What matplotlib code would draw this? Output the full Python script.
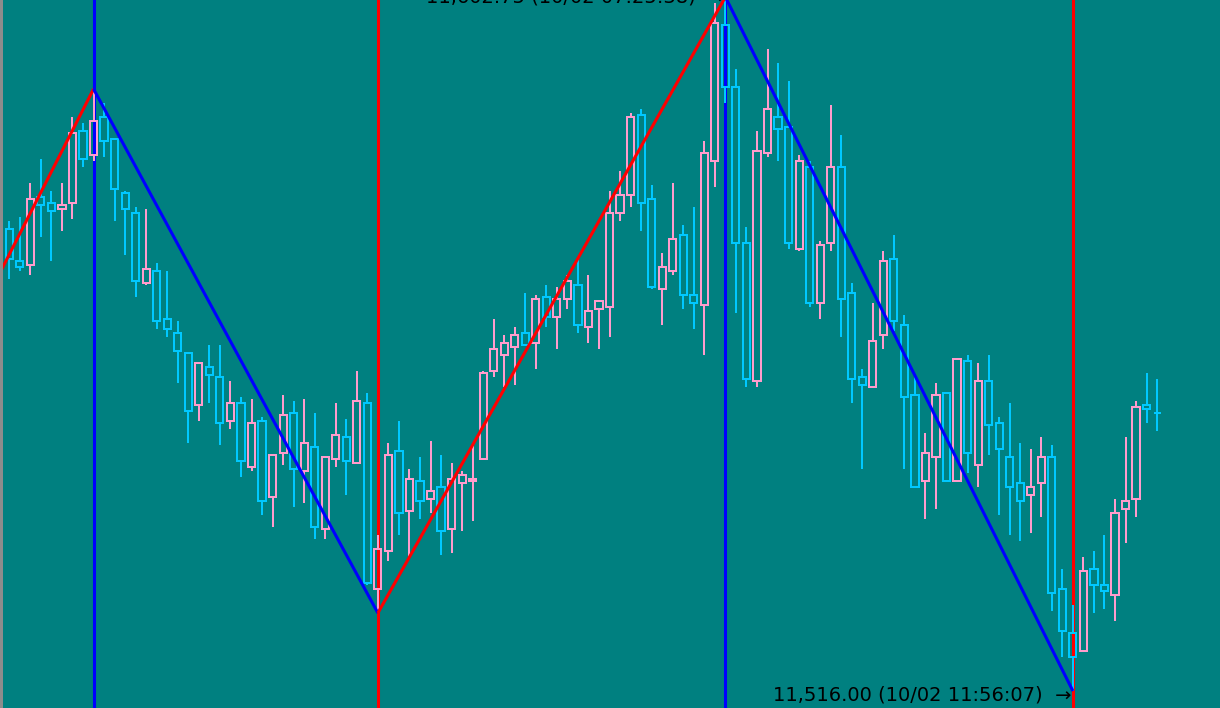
import numpy as np
import matplotlib.pyplot as plt
from matplotlib.patches import Rectangle

# candle data, one entry per bar (index 0 = leftmost bar on screen)
opens = [
    11573.75, 11569.75, 11569.25, 11577.75, 11577.0, 11576.25, 11577.0, 11586.0, 11583.0, 11587.75,
    11585.0, 11578.25, 11575.75, 11567.0, 11568.5, 11562.5, 11560.75, 11558.25, 11551.75, 11556.5,
    11555.25, 11549.75, 11552.0, 11544.0, 11549.75, 11540.25, 11545.75, 11550.75, 11543.5, 11546.5,
    11536.25, 11545.0, 11547.75, 11544.5, 11552.0, 11528.75, 11533.5, 11546.0, 11538.5, 11542.25,
    11540.0, 11541.5, 11536.25, 11542.0, 11542.25, 11545.0, 11556.0, 11558.0, 11559.0, 11560.75,
    11559.5, 11565.25, 11562.75, 11565.0, 11566.75, 11561.5, 11563.75, 11564.0, 11575.75, 11578.0,
    11588.0, 11577.5, 11566.25, 11568.5, 11573.0, 11565.5, 11564.25, 11582.25, 11599.25, 11591.5,
    11572.0, 11554.75, 11583.25, 11587.75, 11586.5, 11571.25, 11581.5, 11564.5, 11572.0, 11581.5,
    11565.75, 11555.25, 11554.0, 11560.5, 11570.0, 11561.75, 11553.0, 11542.25, 11545.25, 11553.25,
    11542.25, 11557.25, 11544.25, 11554.75, 11549.5, 11545.25, 11542.0, 11540.5, 11542.0, 11545.25,
    11528.75, 11523.25, 11521.0, 11531.25, 11529.25, 11528.0, 11538.75, 11540.0, 11551.75, 11550.75,
]
highs = [
    11574.75, 11575.25, 11579.5, 11582.5, 11578.5, 11579.5, 11587.75, 11587.0, 11591.25, 11589.5,
    11585.0, 11578.5, 11576.5, 11576.25, 11569.5, 11568.5, 11562.25, 11558.25, 11557.0, 11559.25,
    11559.25, 11554.75, 11552.75, 11552.5, 11550.25, 11545.5, 11553.0, 11552.25, 11552.5, 11550.75,
    11545.25, 11552.0, 11550.0, 11556.0, 11553.25, 11535.5, 11547.0, 11549.75, 11543.75, 11545.25,
    11547.25, 11545.5, 11544.5, 11543.5, 11547.0, 11556.0, 11562.5, 11560.5, 11561.5, 11565.75,
    11565.5, 11566.75, 11566.5, 11568.0, 11570.0, 11568.0, 11564.75, 11578.5, 11581.0, 11588.25,
    11588.75, 11579.25, 11570.75, 11579.5, 11574.25, 11576.5, 11584.75, 11602.0, 11602.75, 11593.75,
    11574.0, 11586.0, 11596.25, 11594.5, 11592.25, 11583.0, 11582.25, 11572.25, 11589.25, 11585.5,
    11567.0, 11556.25, 11564.5, 11571.0, 11573.0, 11563.0, 11555.5, 11548.25, 11554.5, 11553.25,
    11557.5, 11558.0, 11557.0, 11558.0, 11550.25, 11552.0, 11547.0, 11546.25, 11547.75, 11546.75,
    11531.25, 11526.75, 11532.75, 11533.5, 11535.5, 11540.0, 11547.75, 11552.25, 11555.75, 11555.0,
]
lows = [
    11567.5, 11568.5, 11568.0, 11572.75, 11569.75, 11573.5, 11575.0, 11581.5, 11582.25, 11582.75,
    11574.75, 11570.5, 11565.25, 11566.75, 11561.25, 11560.25, 11554.5, 11547.0, 11549.75, 11552.0,
    11546.75, 11548.75, 11542.75, 11543.5, 11538.0, 11536.5, 11544.25, 11539.0, 11539.5, 11535.0,
    11535.0, 11544.0, 11540.5, 11544.5, 11529.25, 11525.75, 11532.25, 11535.5, 11532.75, 11537.5,
    11538.25, 11533.0, 11533.25, 11536.0, 11537.25, 11545.0, 11555.25, 11554.0, 11554.25, 11559.25,
    11556.25, 11561.5, 11558.75, 11563.75, 11560.75, 11559.5, 11558.75, 11560.25, 11574.75, 11576.5,
    11573.5, 11566.25, 11561.75, 11568.0, 11563.75, 11561.25, 11558.0, 11579.0, 11589.5, 11563.25,
    11554.0, 11554.0, 11582.75, 11582.25, 11571.25, 11571.0, 11564.0, 11562.5, 11571.0, 11560.25,
    11552.0, 11543.75, 11554.0, 11558.75, 11561.0, 11543.75, 11541.5, 11537.5, 11538.75, 11542.25,
    11542.25, 11543.25, 11541.5, 11545.5, 11538.0, 11535.5, 11534.75, 11535.75, 11537.75, 11526.0,
    11520.25, 11516.0, 11521.0, 11525.75, 11526.25, 11524.75, 11534.5, 11537.75, 11549.5, 11548.5,
]
closes = [
    11570.0, 11569.0, 11577.5, 11576.75, 11576.0, 11576.75, 11585.75, 11582.5, 11587.25, 11584.75,
    11578.75, 11576.25, 11567.25, 11568.75, 11562.25, 11561.25, 11558.5, 11551.0, 11557.0, 11555.5,
    11549.5, 11552.0, 11544.75, 11549.5, 11539.75, 11545.5, 11550.5, 11543.75, 11547.0, 11536.5,
    11545.25, 11548.0, 11544.75, 11552.25, 11529.5, 11533.75, 11545.5, 11538.25, 11542.5, 11539.75,
    11541.0, 11536.0, 11542.5, 11543.0, 11542.5, 11555.75, 11558.75, 11559.5, 11560.5, 11559.25,
    11565.0, 11562.75, 11565.0, 11567.25, 11561.75, 11563.5, 11564.75, 11575.75, 11578.0, 11587.75,
    11577.0, 11566.5, 11569.0, 11572.5, 11565.5, 11564.5, 11583.25, 11599.5, 11591.5, 11572.0,
    11555.0, 11583.5, 11588.75, 11586.25, 11572.0, 11582.25, 11564.5, 11571.75, 11581.5, 11565.0,
    11555.0, 11554.25, 11559.75, 11569.75, 11562.25, 11552.75, 11541.5, 11545.75, 11553.0, 11542.25,
    11557.5, 11545.75, 11554.75, 11549.25, 11546.25, 11541.5, 11539.75, 11541.5, 11545.25, 11528.25,
    11523.5, 11520.25, 11531.0, 11529.25, 11528.5, 11538.25, 11539.75, 11551.5, 11551.25, 11550.75,
]

# zigzag pivots (bar index, price); first one is just off the left edge
zz_idx = [-1, 8, 35, 68, 101]
zz_price = [11568.0, 11591.25, 11525.75, 11602.75, 11516.0]

# price labels at the last two pivots (the top one runs off the chart, as on screen)
lbl_idx = [68, 101]
lbl_price = [11602.75, 11516.0]
lbl_text = ["11,602.75 (10/02 07:25:38)  \u2192", "11,516.00 (10/02 11:56:07)  \u2192"]
lbl_dy = [-3.9, -7.0]   # baseline offset in points

BG = "#008080"
UP = "#ff9ccc"
DOWN = "#00c8ff"

fig = plt.figure(figsize=(12.2, 7.08), dpi=100)
ax = fig.add_axes([0, 0, 1, 1])
ax.set_facecolor(BG)
fig.patch.set_facecolor(BG)

x = np.arange(len(opens))
o = np.array(opens)
h = np.array(highs)
l = np.array(lows)
c = np.array(closes)
cols = [UP if cc > oo else DOWN for oo, cc in zip(o, c)]
top = np.maximum(o, c)
bot = np.minimum(o, c)

# vertical lines at each pivot (under the candles)
for i, (xi, p) in enumerate(zip(zz_idx[1:], zz_price[1:])):
    vc = "#0000ff" if p > zz_price[i] else "#ff0000"
    ax.axvline(xi, color=vc, lw=2.2, zorder=1)

# wicks above and below the hollow body, drawn crisp like the terminal does
LW = 1.15
ax.vlines(x, top, h, colors=cols, lw=LW, zorder=2, antialiased=False)
ax.vlines(x, l, bot, colors=cols, lw=LW, zorder=2, antialiased=False)
ax.bar(x, top - bot, bottom=bot, width=0.68, facecolor="none",
       edgecolor=cols, linewidth=LW, zorder=2, antialiased=False)

# zigzag segments: red going up, blue going down
for i in range(len(zz_idx) - 1):
    sc = "#ff0000" if zz_price[i + 1] > zz_price[i] else "#0000ff"
    ax.plot(zz_idx[i:i + 2], zz_price[i:i + 2], color=sc, lw=2.2,
            solid_capstyle="butt", zorder=4)

for xi, p, t, dy in zip(lbl_idx, lbl_price, lbl_text, lbl_dy):
    ax.annotate(t, xy=(xi, p), xytext=(-0.8, dy), textcoords="offset points",
                ha="right", va="baseline", fontsize=14, color="black",
                family=["DejaVu Sans"], zorder=5, annotation_clip=False)

ax.set_xlim(-0.883, 114.97)
ax.set_ylim(11513.875, 11602.375)
ax.axis("off")

# grey window edge on the left
fig.add_artist(Rectangle((0, 0), 2.5 / 1220, 1, transform=fig.transFigure,
                         facecolor="#8c8c8c", edgecolor="none", zorder=10))

fig.savefig("out.png", dpi=100, facecolor=BG)
